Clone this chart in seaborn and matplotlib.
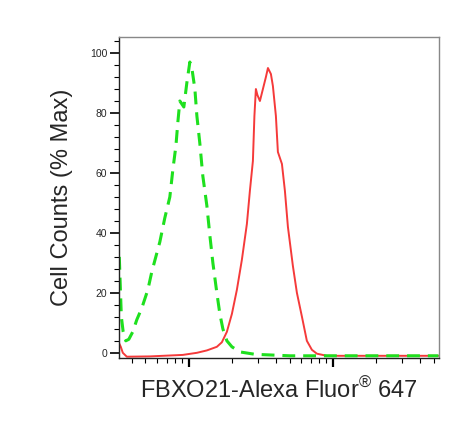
import numpy as np
import pandas as pd
import seaborn as sns
import matplotlib.pyplot as plt
from matplotlib.ticker import LogLocator, NullFormatter, MultipleLocator

# isotype control (green dashed)
iso_x = [329, 340, 350, 365, 383, 408, 435, 472, 519, 553, 629, 681, 738, 774,
         813, 839, 866, 894, 923, 968, 1016, 1049, 1101, 1137, 1191, 1250, 1334,
         1400, 1468, 1564, 1641, 1722, 1836, 1990, 2261, 2872, 5023, 13130, 54000]
iso_y = [32, 12, 7, 4, 4.5, 7, 11, 15, 21, 27, 37, 45, 52, 61,
         69, 77, 84, 83, 82, 90, 97, 95, 88, 79, 70, 59, 49,
         39, 30, 20, 13, 8, 4, 2, 0.3, -0.5, -1, -1, -1]

# FBXO21 stained sample (red)
smp_x = [327, 337, 348, 371, 536, 908, 1137, 1334, 1564, 1694, 1836, 1990, 2154,
         2333, 2528, 2652, 2783, 2851, 2919, 2991, 3113, 3266, 3426, 3539, 3711,
         3831, 4019, 4149, 4426, 4642, 4870, 5272, 5623, 6095, 6592, 7143, 7743,
         9085, 21180, 54000]
smp_y = [3.3, 2, 0, -1.3, -1.2, -0.7, 0, 0.8, 2, 3.5, 7, 13, 21,
         31, 43, 54, 64, 79, 88, 86, 84, 88, 92, 95, 93,
         89, 79, 67, 63, 54, 42, 29, 20, 12, 4, 1, -0.3,
         -1, -1, -1]

df_iso = pd.DataFrame({"x": iso_x, "y": iso_y})
df_smp = pd.DataFrame({"x": smp_x, "y": smp_y})

sns.set_style("ticks")
plt.rcParams['font.family'] = ['Liberation Sans', 'DejaVu Sans']
plt.rcParams['mathtext.fontset'] = 'custom'
plt.rcParams['mathtext.rm'] = 'Liberation Sans'
plt.rcParams['mathtext.it'] = 'Liberation Sans:italic'

fig = plt.figure(figsize=(4.7, 4.37), dpi=100)
ax = fig.add_axes([0.253, 0.181, 0.681, 0.734])

sns.lineplot(data=df_smp, x="x", y="y", ax=ax, color="#f53a3a", lw=1.4)
sns.lineplot(data=df_iso, x="x", y="y", ax=ax, color="#1ee01e", lw=2.2)
ax.lines[-1].set_dashes((4.2, 2.6))

ax.set_xscale("log")
ax.set_xlim(327, 54450)
ax.set_ylim(-1.7, 105.3)

ax.xaxis.set_major_locator(LogLocator(base=10, numticks=10))
ax.xaxis.set_minor_locator(LogLocator(base=10, subs=np.arange(2, 10), numticks=50))
ax.xaxis.set_major_formatter(NullFormatter())
ax.xaxis.set_minor_formatter(NullFormatter())
ax.yaxis.set_major_locator(MultipleLocator(20))
ax.yaxis.set_minor_locator(MultipleLocator(4))

ax.tick_params(axis="both", which="major", direction="out", length=6.5, width=1.2,
               color="black", labelsize=7.5, pad=2)
ax.tick_params(axis="both", which="minor", direction="out", length=3.5, width=0.8,
               color="black")
ax.tick_params(axis="x", which="major", width=1.6)

for s in ["left", "bottom"]:
    ax.spines[s].set_color("#222222")
    ax.spines[s].set_linewidth(1.0)
for s in ["top", "right"]:
    ax.spines[s].set_visible(True)
    ax.spines[s].set_color("#888888")
    ax.spines[s].set_linewidth(1.0)

ax.set_ylabel("Cell Counts (% Max)", fontsize=17, labelpad=12)
ax.set_xlabel(r"FBXO21-Alexa Fluor$^{\mathrm{®}}$ 647", fontsize=17, labelpad=6)

fig.savefig("out.png", dpi=100)
